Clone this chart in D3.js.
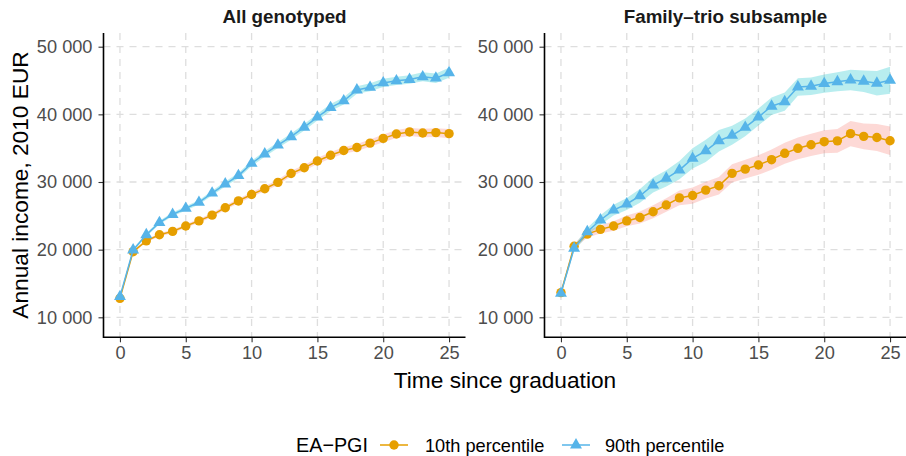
<!DOCTYPE html>
<html>
<head>
<meta charset="utf-8">
<script src="https://cdn.jsdelivr.net/npm/d3@7"></script>
<style>
  html, body { margin: 0; padding: 0; background: #fff; }
  svg { display: block; font-family: "Liberation Sans", Arial, Helvetica, sans-serif; }
</style>
</head>
<body>
<svg id="chart" width="906" height="456"></svg>
<script>
// Years since graduation
const years = [0,1,2,3,4,5,6,7,8,9,10,11,12,13,14,15,16,17,18,19,20,21,22,23,24,25];

// Mean annual income (2010 EUR), all genotyped
const allP10 = [12800,19700,21300,22200,22700,23500,24250,25100,26200,27200,28150,29000,29950,31250,32100,33100,33950,34650,35100,35750,36450,37100,37400,37250,37300,37150];
const allP90 = [13050,19950,22200,24000,25200,26100,27000,28350,29700,30950,32750,34150,35450,36700,38100,39600,41000,42000,43600,44000,44650,44950,45150,45550,45350,46150];
// 95% CI half-widths, all genotyped
const allP10Ci = [150,200,220,240,250,270,280,300,320,330,350,370,390,410,430,450,470,490,510,530,560,580,600,630,660,690];
const allP90Ci = [150,220,240,260,280,300,320,340,360,380,400,420,440,460,480,500,520,540,560,580,600,620,640,670,700,740];

// Mean annual income (2010 EUR), family-trio subsample
const trioP10 = [13650,20500,22300,23000,23500,24250,24750,25600,26600,27650,28000,28800,29450,31280,31900,32510,33300,34240,34980,35500,35960,36080,37150,36750,36580,36100];
const trioP90 = [13550,20200,22650,24380,25850,26750,27950,29550,30550,31750,33500,34600,36100,36900,38080,39600,41200,41870,44050,44150,44550,44830,45080,44900,44600,45050];
// 95% CI half-widths, family-trio subsample
const trioP10Ci = [250,350,500,600,700,800,900,950,1000,1100,1200,1250,1300,1350,1400,1450,1500,1550,1600,1650,1700,1750,1850,1900,2000,2100];
const trioP90Ci = [250,400,550,700,800,900,1000,1100,1200,1350,1500,1650,1600,1400,1300,1250,1300,1350,1300,1300,1350,1400,1500,1600,1800,2000];

const panelTitles = ["All genotyped", "Family\u2013trio subsample"];
const seriesNames = ["10th percentile", "90th percentile"];
const legendTitle = "EA\u2212PGI";
const xTicks = [0,5,10,15,20,25];
const yTicks = [10000,20000,30000,40000,50000];
const xTitle = "Time since graduation";
const yTitle = "Annual income, 2010 EUR";

const lineColors = ["#E69F00", "#56B4E9"];
const ribbonColors = ["#F8766D", "#00BFC4"];

const panels = [
  { title: panelTitles[0], left: 103.5, series: [
    { mean: allP10, ci: allP10Ci }, { mean: allP90, ci: allP90Ci } ] },
  { title: panelTitles[1], left: 544.5, series: [
    { mean: trioP10, ci: trioP10Ci }, { mean: trioP90, ci: trioP90Ci } ] }
];

const panelW = 362, panelTop = 33, panelBottom = 337.3;
const textSize = 18.2, titleSize = 22.7;
const svg = d3.select("#chart");

const y = d3.scaleLinear().domain([7044, 52025]).range([panelBottom, panelTop]);
const fmt = v => d3.format(",")(v).replace(/,/g, " ");

panels.forEach(p => {
  const x = d3.scaleLinear().domain([-1.25, 26.25]).range([p.left, p.left + panelW]);
  const g = svg.append("g");

  // dashed grid
  g.append("g").selectAll("line").data(yTicks).join("line")
    .attr("x1", p.left).attr("x2", p.left + panelW)
    .attr("y1", d => y(d)).attr("y2", d => y(d))
    .attr("stroke", "#dedede").attr("stroke-width", 1.3).attr("stroke-dasharray", "7,6");
  g.append("g").selectAll("line").data(xTicks).join("line")
    .attr("x1", d => x(d)).attr("x2", d => x(d))
    .attr("y1", panelTop).attr("y2", panelBottom)
    .attr("stroke", "#dedede").attr("stroke-width", 1.3).attr("stroke-dasharray", "7,6");

  // confidence ribbons
  p.series.forEach((s, i) => {
    const area = d3.area()
      .x((d, k) => x(years[k]))
      .y0((d, k) => y(s.mean[k] - s.ci[k]))
      .y1((d, k) => y(s.mean[k] + s.ci[k]));
    g.append("path").datum(s.mean).attr("d", area)
      .attr("fill", ribbonColors[i]).attr("fill-opacity", 0.28);
  });

  // lines and points
  p.series.forEach((s, i) => {
    const line = d3.line().x((d, k) => x(years[k])).y(d => y(d));
    g.append("path").datum(s.mean).attr("d", line)
      .attr("fill", "none").attr("stroke", lineColors[i]).attr("stroke-width", 1.5);
    if (i === 0) {
      g.append("g").selectAll("circle").data(s.mean).join("circle")
        .attr("cx", (d, k) => x(years[k])).attr("cy", d => y(d)).attr("r", 4.7)
        .attr("fill", lineColors[i]);
    } else {
      const tri = d3.symbol().type(d3.symbolTriangle).size(62);
      g.append("g").selectAll("path").data(s.mean).join("path")
        .attr("d", tri)
        .attr("transform", (d, k) => `translate(${x(years[k])},${y(d)})`)
        .attr("fill", lineColors[i]);
    }
  });

  // axes
  const xAxis = g.append("g").attr("transform", `translate(0,${panelBottom})`)
    .call(d3.axisBottom(x).tickValues(xTicks).tickSize(5).tickPadding(4));
  const yAxis = g.append("g").attr("transform", `translate(${p.left},0)`)
    .call(d3.axisLeft(y).tickValues(yTicks).tickFormat(fmt).tickSize(5).tickPadding(6));
  [xAxis, yAxis].forEach(a => {
    a.select(".domain").remove();
    a.selectAll(".tick line").attr("stroke", "#333").attr("stroke-width", 1.1);
    a.selectAll(".tick text").attr("fill", "#4d4d4d").attr("font-size", textSize)
      .attr("font-family", "Liberation Sans, Arial, sans-serif");
  });
  g.append("line").attr("x1", p.left).attr("x2", p.left + panelW)
    .attr("y1", panelBottom).attr("y2", panelBottom).attr("stroke", "#000").attr("stroke-width", 1.6);
  g.append("line").attr("x1", p.left).attr("x2", p.left)
    .attr("y1", panelTop).attr("y2", panelBottom + 0.8).attr("stroke", "#000").attr("stroke-width", 1.6);

  // facet title
  g.append("text").attr("x", p.left + panelW / 2).attr("y", 22.5)
    .attr("text-anchor", "middle").attr("font-weight", "bold").attr("font-size", 18.8)
    .attr("fill", "#1a1a1a").text(p.title);
});

// axis titles
svg.append("text").attr("x", 505).attr("y", 388).attr("text-anchor", "middle")
  .attr("font-size", titleSize).attr("fill", "#000").text(xTitle);
svg.append("text").attr("transform", "translate(28,185) rotate(-90)")
  .attr("text-anchor", "middle").attr("font-size", titleSize).attr("fill", "#000").text(yTitle);

// legend
const lg = svg.append("g");
lg.append("text").attr("x", 296).attr("y", 451.5).attr("font-size", 21)
  .attr("textLength", 72).attr("lengthAdjust", "spacingAndGlyphs")
  .attr("fill", "#000").text(legendTitle);
const keys = [{ x0: 380, tx: 425 }, { x0: 562, tx: 605 }];
keys.forEach((k, i) => {
  lg.append("line").attr("x1", k.x0).attr("x2", k.x0 + 28).attr("y1", 445).attr("y2", 445)
    .attr("stroke", lineColors[i]).attr("stroke-width", 1.5);
  if (i === 0) {
    lg.append("circle").attr("cx", k.x0 + 14).attr("cy", 445).attr("r", 4.7).attr("fill", lineColors[i]);
  } else {
    lg.append("path").attr("d", d3.symbol().type(d3.symbolTriangle).size(62))
      .attr("transform", `translate(${k.x0 + 14},445)`).attr("fill", lineColors[i]);
  }
  lg.append("text").attr("x", k.tx).attr("y", 451.5).attr("font-size", textSize).attr("fill", "#000")
    .text(seriesNames[i]);
});
</script>
</body>
</html>
